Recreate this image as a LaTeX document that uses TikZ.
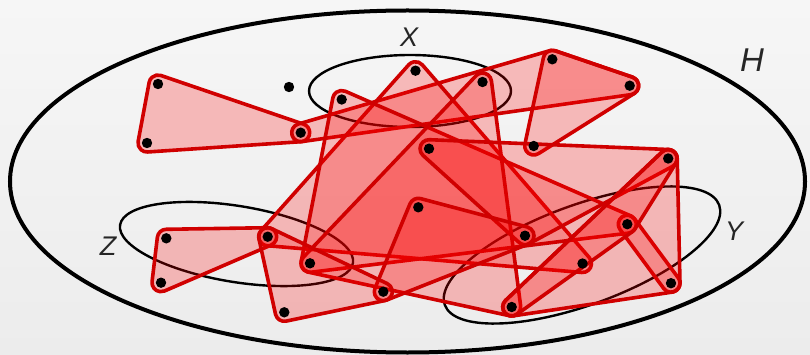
\documentclass[tikz,border=0pt]{standalone}
\usepackage{fontspec}
\setmainfont{Liberation Sans}
\usetikzlibrary{calc}
\definecolor{hred}{RGB}{208,0,0}
\definecolor{bgtop}{RGB}{246,246,246}
\definecolor{bgbot}{RGB}{236,236,236}
\newcommand{\Rr}{9pt}
\tikzset{
  hedge/.style={draw=hred, line width=3.6pt, fill=red, fill opacity=0.24, line join=round},
  setell/.style={draw=black, line width=2.4pt},
  lab/.style={font=\itshape\fontsize{27}{27}\selectfont, inner sep=0pt, text=black!85},
}
\newcommand{\hedgeT}[3]{%
\path[hedge] let \p1=($(#2)-(#1)$), \p2=($(#3)-(#2)$), \p3=($(#1)-(#3)$),
 \n1={atan2(\y1,\x1)-90}, \n2={atan2(\y2,\x2)-90}, \n3={atan2(\y3,\x3)-90},
 \n4={mod((\n2)-(\n1)+720,360)}, \n5={mod((\n3)-(\n2)+720,360)}, \n6={mod((\n1)-(\n3)+720,360)}
 in ($(#1)+(\n1:\Rr)$) -- ($(#2)+(\n1:\Rr)$) arc[start angle=\n1, delta angle=\n4, radius=\Rr]
 -- ($(#3)+(\n2:\Rr)$) arc[start angle=\n2, delta angle=\n5, radius=\Rr]
 -- ($(#1)+(\n3:\Rr)$) arc[start angle=\n3, delta angle=\n6, radius=\Rr] -- cycle;}
\newcommand{\hedgeD}[2]{%
\path[hedge] let \p1=($(#2)-(#1)$), \n1={atan2(\y1,\x1)-90}, \n2={atan2(\y1,\x1)+90}
 in ($(#1)+(\n1:\Rr)$) -- ($(#2)+(\n1:\Rr)$) arc[start angle=\n1, delta angle=180, radius=\Rr]
 -- ($(#1)+(\n2:\Rr)$) arc[start angle=\n2, delta angle=180, radius=\Rr] -- cycle;}
\begin{document}
\begin{tikzpicture}[x=1pt,y=-1pt]
\shade[top color=bgtop, bottom color=bgbot] (0,0) rectangle (810,355);
\useasboundingbox (0,0) rectangle (810,355);
% vertices
\coordinate (v1) at (158,84);
\coordinate (v2) at (147,143);
\coordinate (v3) at (300.7,132.7);
\coordinate (v4) at (289,87);
\coordinate (v5) at (341.7,99.5);
\coordinate (v6) at (415.5,70.7);
\coordinate (v7) at (482.5,82);
\coordinate (v8) at (552.3,59.3);
\coordinate (v9) at (629.7,85.7);
\coordinate (v10) at (533.7,146);
\coordinate (v11) at (429,148.7);
\coordinate (v12) at (668.2,158.5);
\coordinate (v13) at (418.3,207.3);
\coordinate (v14) at (525,235.7);
\coordinate (v15) at (627.3,224.2);
\coordinate (v16) at (582.5,263.5);
\coordinate (v17) at (671,283.2);
\coordinate (v18) at (511.7,307);
\coordinate (v19) at (383.3,291.7);
\coordinate (v20) at (310,263.3);
\coordinate (v21) at (267.7,236.7);
\coordinate (v22) at (166.3,238.3);
\coordinate (v23) at (161,282.7);
\coordinate (v24) at (284.3,312.3);
% sets
\draw[line width=4pt] (407.5,181.5) ellipse[x radius=397.5pt, y radius=171pt];
\draw[setell] (410,91) ellipse[x radius=101pt, y radius=36pt];
\draw[setell, rotate around={20:(582,255)}] (582,255) ellipse[x radius=146pt, y radius=50pt];
\draw[setell, rotate around={-9.3:(236.5,244)}] (236.5,244) ellipse[x radius=118pt, y radius=38pt];
\node[lab] (lx) at (409,37) {X};
\node[lab, font=\itshape\fontsize{33}{33}\selectfont] (lh) at (752,60) {H};
\node[lab] (ly) at (734,231) {Y};
\node[lab] (lz) at (108,246) {Z};
% hyperedges
\hedgeT{v3}{v1}{v2}
\hedgeT{v9}{v8}{v3}
\hedgeT{v9}{v8}{v10}
\hedgeT{v16}{v6}{v21}
\hedgeT{v15}{v5}{v20}
\hedgeT{v18}{v7}{v20}
\hedgeT{v12}{v11}{v14}
\hedgeT{v14}{v13}{v19}
\hedgeT{v21}{v22}{v23}
\hedgeT{v19}{v21}{v24}
\hedgeD{v15}{v17}
\hedgeT{v12}{v18}{v17}
\hedgeT{v18}{v15}{v12}
% vertex dots
\foreach \k in {1,...,24} \fill (v\k) circle[radius=5.2pt];
\end{tikzpicture}
\end{document}
